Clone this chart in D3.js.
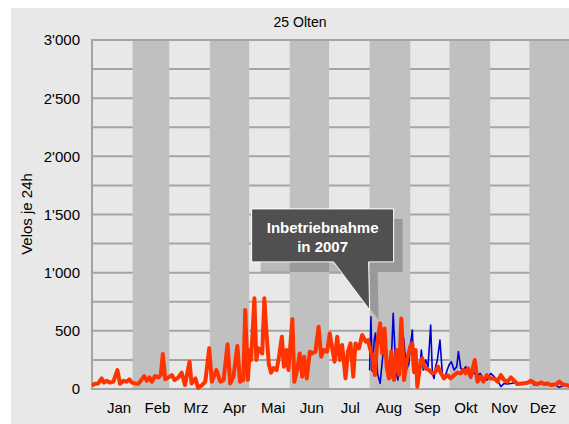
<!DOCTYPE html>
<html>
<head>
<meta charset="utf-8">
<script src="https://cdn.jsdelivr.net/npm/d3@7"></script>
<style>
  html, body { margin: 0; padding: 0; background: #fff; }
  svg { display: block; font-family: "Liberation Sans", Arial, sans-serif; }
</style>
</head>
<body>
<div id="chart"></div>
<script>
// data
var title = "25 Olten";
var yTitle = "Velos je 24h";
var monthNames = ["Jan", "Feb", "Mrz", "Apr", "Mai", "Jun", "Jul", "Aug", "Sep", "Okt", "Nov", "Dez"];
var yTicks = [0, 500, 1000, 1500, 2000, 2500, 3000];

// orange series (day of year, value)
var orangeDays = [0, 2.3, 4.8, 7.4, 9.2, 11.2, 13.8, 16.3, 19.4, 21.4, 24, 26.5, 28.6, 30.4, 32.9, 35.5, 38, 39.8,
  41.8, 43.9, 45.7, 48.2, 50.8, 52.5, 54.1, 55.9, 58.4, 61, 63, 66, 68.5, 71, 74.5, 76, 79, 81, 84, 86.5, 89.5,
  91.5, 95, 98, 100.5, 103.5, 105.5, 108, 111, 113, 115.5, 117, 119, 120.5, 121.5, 124, 125.5, 127, 128.5, 130,
  131.6, 133, 135, 136.7, 138.7, 141, 143, 145, 146.5, 148.5, 150, 153, 154.5, 156.6, 158.6, 160.5, 162, 164,
  166.3, 168, 170.6, 173, 175, 177, 179.5, 181.6, 183.4, 185.2, 187.2, 189.2, 191, 193.6, 195.4, 197.4, 199.5,
  201.2, 203.8, 206.3, 209, 210.8, 212.2, 214, 216, 217.8, 220, 221.6, 223.4, 225, 226.7, 228.5, 230.6, 232.6,
  234.5, 236.2, 238.3, 240.4, 243, 244.6, 245.8, 247.1, 248.4, 249.7, 251, 252.2, 253.5, 254.8, 257.3, 259.9,
  262.4, 264.2, 266.3, 268.8, 271.4, 273.9, 276.5, 279, 281.6, 283.6, 285.4, 287.2, 289.2, 292.3, 294.3, 296.9,
  298.9, 301.5, 304, 307, 309.6, 312.2, 314.7, 317.3, 319.8, 322.4, 324.9, 328.7, 332.6, 335.1, 337.7, 340.2,
  342.8, 345.3, 347.9, 350.4, 354.3, 356.8, 359.4, 361.9, 364.5];
var orangeVals = [30, 45, 48, 91, 55, 70, 55, 63, 163, 45, 70, 63, 83, 55, 48, 45, 83, 111,
  70, 100, 63, 111, 100, 120, 300, 83, 100, 120, 77, 100, 140, 34, 235, 48, 91, 10, 34, 63, 350,
  63, 163, 63, 77, 385, 48, 106, 370, 63, 77, 680, 77, 335, 250, 780, 250, 350, 335, 306,
  780, 520, 215, 140, 180, 163, 292, 450, 192, 335, 163, 600, 63, 163, 306, 106, 278, 91,
  321, 306, 321, 536, 278, 335, 321, 478, 350, 235, 450, 249, 378, 91, 321, 392, 106,
  392, 349, 464, 407, 421, 349, 292, 120, 392, 565, 306, 521, 192, 91, 321, 77, 335,
  120, 607, 77, 249, 364, 392, 149, 335, 20, 134, 235, 263, 206, 177, 163, 134,
  149, 192, 140, 91, 120, 91, 120, 140, 134, 163, 134, 177, 106, 249, 63, 106,
  63, 120, 90, 91, 63, 120, 77, 63, 100, 71, 43, 48, 54, 71, 54, 40,
  57, 43, 48, 34, 40, 63, 40, 34, 28];

// blue series (day of year, value)
var blueDays = [212, 213, 214, 215.5, 216.5, 218, 220, 222, 224, 226, 228, 230, 232, 233.5, 236, 238, 240, 242,
  243.3, 244.6, 245.8, 247.9, 249.7, 251.5, 253, 254.8, 256.6, 258.6, 259.9, 261.2, 262.4, 263.7, 265.7, 267.5,
  268.8, 270.8, 272.6, 274.4, 276.5, 278.5, 279.8, 281.6, 283.6, 285.4, 287.2, 289.2, 291.2, 293.8, 296.4, 298.9,
  301.5, 304.5, 307, 309.6, 312.2, 314.7, 317.3, 319.8, 322.4, 324.9, 328.7, 332.6, 335.1, 337.7, 341.5, 345.3,
  349.1, 353, 356.8, 360.7, 364.5];
var blueVals = [160, 620, 150, 420, 480, 134, 48, 278, 421, 192, 91, 650, 163, 77, 278, 435, 163, 220,
  392, 507, 134, 163, 120, 335, 163, 249, 192, 550, 134, 91, 192, 249, 421, 134,
  91, 149, 206, 235, 163, 192, 321, 177, 163, 192, 134, 91, 149, 106, 134, 91,
  77, 134, 106, 77, 20, 48, 43, 48, 54, 34, 54, 48, 63, 34, 43, 48,
  34, 40, 14, 34, 20];

// annotation
var noteLines = ["Inbetriebnahme", "in 2007"];
var noteDay = 212, noteVal = 680;

// dimensions
var W = 569, H = 424,
    margin = {top: 40, right: 0, bottom: 35, left: 92},
    x0 = margin.left, x1 = W - margin.right,
    yTop = margin.top, yBot = H - margin.bottom;

var svg = d3.select("#chart").append("svg")
    .attr("width", W)
    .attr("height", H);

// background panel
svg.append("rect")
    .attr("x", 11).attr("y", 8)
    .attr("width", W - 11).attr("height", H - 8)
    .attr("fill", "#e8e8e8");

// scales
var x = d3.scaleLinear().domain([0, 365]).range([x0, x1 + 1]);
var y = d3.scaleLinear().domain([0, 3000]).range([yBot, yTop]);

var year0 = new Date(2007, 0, 1);
var monthStarts = d3.timeMonth.range(year0, new Date(2008, 0, 1)).map(function (m) {
    return d3.timeDay.count(year0, m);
});
monthStarts.push(365);

// gridlines every 250
svg.append("g")
    .selectAll("line")
    .data(d3.range(250, 3000, 250))
    .enter().append("line")
    .attr("x1", x0).attr("x2", x1)
    .attr("y1", function (d) { return y(d); })
    .attr("y2", function (d) { return y(d); })
    .attr("stroke", "#a4a4a4")
    .attr("stroke-width", 2);

// grey month bands (Feb, Apr, ...)
svg.append("g")
    .selectAll("rect")
    .data(d3.range(1, 12, 2))
    .enter().append("rect")
    .attr("x", function (i) { return x(monthStarts[i]); })
    .attr("width", function (i) { return x(monthStarts[i + 1]) - x(monthStarts[i]); })
    .attr("y", yTop + 1)
    .attr("height", yBot - yTop - 1)
    .attr("fill", "#c0c0c0");

// top line and axes
svg.append("line")
    .attr("x1", x0).attr("x2", x1)
    .attr("y1", yTop).attr("y2", yTop)
    .attr("stroke", "#a4a4a4").attr("stroke-width", 2);
svg.append("line")
    .attr("x1", x0).attr("x2", x1)
    .attr("y1", yBot).attr("y2", yBot)
    .attr("stroke", "#a4a4a4").attr("stroke-width", 2);
svg.append("line")
    .attr("x1", x0).attr("x2", x0)
    .attr("y1", yTop - 1).attr("y2", yBot + 1)
    .attr("stroke", "#a4a4a4").attr("stroke-width", 2);

// y tick labels with swiss thousands separator
var fmt = d3.formatLocale({decimal: ".", thousands: "'", grouping: [3], currency: ["", ""]}).format(",");
svg.append("g")
    .selectAll("text")
    .data(yTicks)
    .enter().append("text")
    .attr("x", 80)
    .attr("y", function (d) { return y(d); })
    .attr("dy", "0.36em")
    .attr("text-anchor", "end")
    .attr("font-size", 15)
    .attr("fill", "#000")
    .text(function (d) { return fmt(d); });

// month labels
var xm = d3.scalePoint().domain(monthNames).range([119, 543]);
svg.append("g")
    .selectAll("text")
    .data(monthNames)
    .enter().append("text")
    .attr("x", function (d) { return xm(d); })
    .attr("y", 413)
    .attr("text-anchor", "middle")
    .attr("font-size", 15)
    .attr("fill", "#000")
    .text(function (d) { return d; });

// titles
svg.append("text")
    .attr("x", 300).attr("y", 27)
    .attr("text-anchor", "middle")
    .attr("font-size", 14)
    .text(title);
svg.append("text")
    .attr("transform", "translate(32," + 214 + ") rotate(-90)")
    .attr("text-anchor", "middle")
    .attr("font-size", 15)
    .text(yTitle);

// lines
var line = d3.line()
    .x(function (d) { return x(d[0]); })
    .y(function (d) { return y(d[1]); });

var blue = d3.zip(blueDays, blueVals);
var orange = d3.zip(orangeDays, orangeVals);

svg.append("path")
    .datum(blue)
    .attr("d", line)
    .attr("fill", "none")
    .attr("stroke", "#0000cc")
    .attr("stroke-width", 1.6)
    .attr("stroke-linejoin", "round");

svg.append("path")
    .datum(orange)
    .attr("d", line)
    .attr("fill", "none")
    .attr("stroke", "#ff3300")
    .attr("stroke-width", 4)
    .attr("stroke-linejoin", "round");

// callout
var tx = x(noteDay), ty = y(noteVal);
var bx = tx - 118, by = ty - 101, bw = 142, bh = 53;
var calloutPath = function (dx, dy) {
    var p = d3.path();
    p.moveTo(bx + dx, by + dy);
    p.lineTo(bx + bw + dx, by + dy);
    p.lineTo(bx + bw + dx, by + bh + dy);
    p.lineTo(tx - 1 + dx, by + bh + dy);
    p.lineTo(tx + dx, ty + dy);
    p.lineTo(bx + 82 + dx, by + bh + dy);
    p.lineTo(bx + dx, by + bh + dy);
    p.closePath();
    return p.toString();
};
svg.append("path")
    .attr("d", calloutPath(9, 10))
    .attr("fill", "#000")
    .attr("fill-opacity", 0.2);
svg.append("path")
    .attr("d", calloutPath(0, 0))
    .attr("fill", "#505050")
    .attr("stroke", "#fff")
    .attr("stroke-width", 1);
svg.append("g")
    .selectAll("text")
    .data(noteLines)
    .enter().append("text")
    .attr("x", bx + bw / 2)
    .attr("y", function (d, i) { return by + 24 + i * 19; })
    .attr("text-anchor", "middle")
    .attr("font-size", 15)
    .attr("font-weight", "bold")
    .attr("fill", "#fff")
    .text(function (d) { return d; });
</script>
</body>
</html>
